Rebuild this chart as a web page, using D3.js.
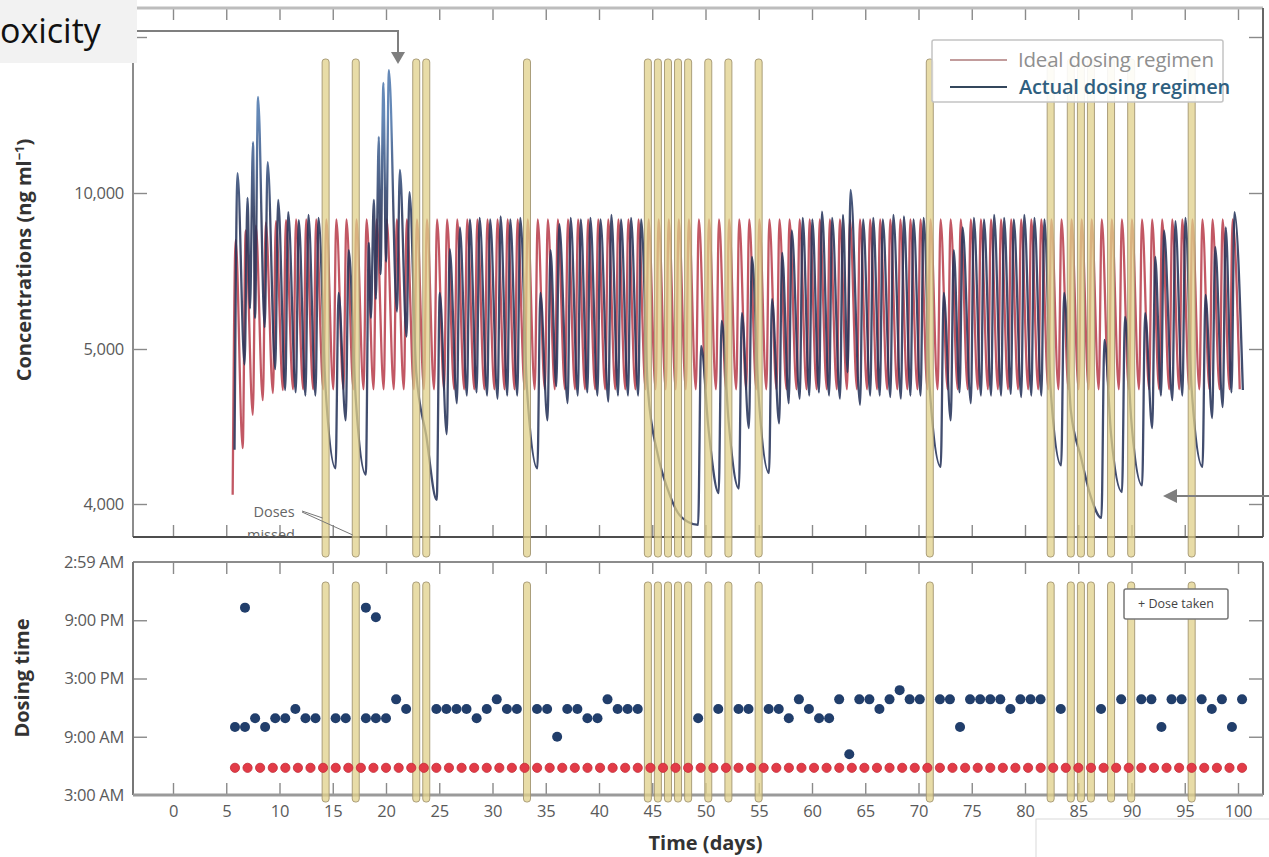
<!DOCTYPE html>
<html lang="en">
<head>
<meta charset="UTF-8">
<title>Ideal vs actual dosing regimen</title>
<script src="https://cdn.jsdelivr.net/npm/d3@7"></script>
<style>
  body { margin: 0; background: #fff; }
  svg text { font-family: "Open Sans", sans-serif; }
</style>
</head>
<body>
<script>
// ---- data ----
// one slot per scheduled dose (days)
var slotDay = [5.82, 6.76, 7.71, 8.65, 9.60, 10.54, 11.49, 12.44, 13.38, 14.33,
  15.27, 16.22, 17.16, 18.11, 19.05, 20.00, 20.95, 21.89, 22.84, 23.78,
  24.73, 25.67, 26.62, 27.56, 28.51, 29.46, 30.40, 31.35, 32.29, 33.24,
  34.18, 35.13, 36.07, 37.02, 37.97, 38.91, 39.86, 40.80, 41.75, 42.69,
  43.64, 44.59, 45.53, 46.48, 47.42, 48.37, 49.31, 50.26, 51.20, 52.15,
  53.10, 54.04, 54.99, 55.93, 56.88, 57.82, 58.77, 59.71, 60.66, 61.61,
  62.55, 63.50, 64.44, 65.39, 66.33, 67.28, 68.23, 69.17, 70.12, 71.06,
  72.01, 72.95, 73.90, 74.84, 75.79, 76.74, 77.68, 78.63, 79.57, 80.52,
  81.46, 82.41, 83.36, 84.30, 85.25, 86.19, 87.14, 88.08, 89.03, 89.97,
  90.92, 91.87, 92.81, 93.76, 94.70, 95.65, 96.59, 97.54, 98.49, 99.43,
  100.38];

// hour of day the dose was taken (null = dose missed)
var takenHour = [10.0, 10.0, 10.9, 10.0, 10.9, 10.9, 11.85, 10.9, 10.9, null,
  10.9, 10.9, null, 10.9, 10.9, 10.9, 12.85, 11.85, null, null,
  11.85, 11.85, 11.85, 11.85, 10.9, 11.85, 12.85, 11.85, 11.85, null,
  11.85, 11.85, 9.0, 11.85, 11.85, 10.9, 10.9, 12.85, 11.85, 11.85,
  11.85, null, null, null, null, null, 10.9, null, 11.85, null,
  11.85, 11.85, null, 11.85, 11.85, 10.9, 12.85, 11.85, 10.9, 10.9,
  12.85, 7.2, 12.85, 12.85, 11.85, 12.85, 13.8, 12.85, 12.85, null,
  12.85, 12.85, 10.0, 12.85, 12.85, 12.85, 12.85, 11.85, 12.85, 12.85,
  12.85, null, 11.85, null, null, null, 11.85, null, 12.85, null,
  12.85, 12.85, 10.0, 12.85, 12.85, null, 12.85, 11.85, 12.85, 10.0,
  12.85];

// second doses taken late in the evening
var extraDay = [6.76, 18.11, 19.05];
var extraHour = [22.3, 22.3, 21.3];
var extraLow = [6300, 6000, 7400];
var extraHigh = [11630, 9780, 13530];

// actual regimen: concentration at dose time and peak after it (ng/ml)
var actualLow = [4350, 4900, 6000, 5700, 4870, 4735, 4720, 4700, 4700, 4740,
  4230, 4540, 4680, 4190, 6600, 7800, 6200, 5400, 4850, 4440,
  4026, 4450, 4650, 4700, 4720, 4700, 4680, 4700, 4700, 4740,
  4230, 4540, 4760, 4650, 4700, 4720, 4700, 4660, 4700, 4700,
  4700, 4740, 4316, 4090, 3942, 3884, 3865, 4500, 4070, 4550,
  4100, 4490, 4700, 4200, 4520, 4650, 4680, 4700, 4720, 4700,
  4680, 4850, 4640, 4700, 4700, 4690, 4680, 4700, 4700, 4740,
  4240, 4540, 4720, 4650, 4700, 4700, 4700, 4710, 4690, 4700,
  4700, 4740, 4250, 4606, 4303, 4045, 3910, 4450, 4077, 4550,
  4120, 4490, 4700, 4670, 4700, 4740, 4240, 4555, 4625, 4720,
  4735];
var actualHigh = [10640, 9840, 13080, 10990, 9780, 9390, 9130, 9300, 9200, null,
  6800, 8170, null, 8400, 11800, 13940, 10740, 10030, null, null,
  6800, 8200, 8900, 9150, 9200, 9150, 9250, 9150, 9200, null,
  6800, 8170, 9000, 9200, 9150, 9200, 9150, 9300, 9150, 9200,
  9150, null, null, null, null, null, 5100, null, 5900, null,
  6150, 7950, null, 6600, 8080, 8800, 9200, 9150, 9400, 9200,
  9300, 10100, 9150, 9200, 9150, 9300, 9250, 9150, 9200, null,
  6800, 8170, 8900, 9200, 9150, 9300, 9200, 9150, 9300, 9200,
  9150, null, 6800, null, null, null, 5290, null, 6030, null,
  6150, 7950, 8800, 9100, 9200, null, 6730, 8270, 8900, 9390,
  null];

// ideal regimen
var idealLow = [4060, 4360, 4575, 4670, 4716, 4735, 4740, 4740, 4740, 4740,
  4740, 4740, 4740, 4740, 4740, 4740, 4740, 4740, 4740, 4740,
  4740, 4740, 4740, 4740, 4740, 4740, 4740, 4740, 4740, 4740,
  4740, 4740, 4740, 4740, 4740, 4740, 4740, 4740, 4740, 4740,
  4740, 4740, 4740, 4740, 4740, 4740, 4740, 4740, 4740, 4740,
  4740, 4740, 4740, 4740, 4740, 4740, 4740, 4740, 4740, 4740,
  4740, 4740, 4740, 4740, 4740, 4740, 4740, 4740, 4740, 4740,
  4740, 4740, 4740, 4740, 4740, 4740, 4740, 4740, 4740, 4740,
  4740, 4740, 4740, 4740, 4740, 4740, 4740, 4740, 4740, 4740,
  4740, 4740, 4740, 4740, 4740, 4740, 4740, 4740, 4740, 4740,
  4740];
var idealHigh = [8500, 8800, 8950, 9050, 9100, 9130, 9150, 9150, 9150, 9150,
  9150, 9150, 9150, 9150, 9150, 9150, 9150, 9150, 9150, 9150,
  9150, 9150, 9150, 9150, 9150, 9150, 9150, 9150, 9150, 9150,
  9150, 9150, 9150, 9150, 9150, 9150, 9150, 9150, 9150, 9150,
  9150, 9150, 9150, 9150, 9150, 9150, 9150, 9150, 9150, 9150,
  9150, 9150, 9150, 9150, 9150, 9150, 9150, 9150, 9150, 9150,
  9150, 9150, 9150, 9150, 9150, 9150, 9150, 9150, 9150, 9150,
  9150, 9150, 9150, 9150, 9150, 9150, 9150, 9150, 9150, 9150,
  9150, 9150, 9150, 9150, 9150, 9150, 9150, 9150, 9150, 9150,
  9150, 9150, 9150, 9150, 9150, 9150, 9150, 9150, 9150, 9150,
  null];

// ideal dosing times in the lower panel
var idealDoseDay = [5.82, 7.00, 8.18, 9.37, 10.55, 11.73, 12.91, 14.09, 15.28, 16.46,
  17.64, 18.82, 20.00, 21.19, 22.37, 23.55, 24.73, 25.91, 27.10, 28.28,
  29.46, 30.64, 31.82, 33.01, 34.19, 35.37, 36.55, 37.73, 38.92, 40.10,
  41.28, 42.46, 43.64, 44.83, 46.01, 47.19, 48.37, 49.55, 50.74, 51.92,
  53.10, 54.28, 55.46, 56.65, 57.83, 59.01, 60.19, 61.37, 62.56, 63.74,
  64.92, 66.10, 67.28, 68.47, 69.65, 70.83, 72.01, 73.19, 74.38, 75.56,
  76.74, 77.92, 79.10, 80.29, 81.47, 82.65, 83.83, 85.01, 86.20, 87.38,
  88.56, 89.74, 90.92, 92.11, 93.29, 94.47, 95.65, 96.83, 98.02, 99.20,
  100.38];
var idealDoseHour = 5.8;

// ticks
var dayTicks = [0, 5, 10, 15, 20, 25, 30, 35, 40, 45, 50, 55, 60, 65, 70, 75, 80, 85, 90, 95, 100];
var concTicks = [4000, 5000, 10000, 15000];
var concTickLabels = ["4,000", "5,000", "10,000", ""];
var timeTicks = [3, 9, 15, 21, 26.983];
var timeTickLabels = ["3:00 AM", "9:00 AM", "3:00 PM", "9:00 PM", "2:59 AM"];

// ---- drawing ----
var width = 1269, height = 857;
var refHour = 11, peakLag = 0.28;

var svg = d3.select("body").append("svg")
    .attr("width", width)
    .attr("height", height);

var pA = {left: 133, right: 1263, top: 8, bottom: 537};   // concentrations
var pB = {left: 133, right: 1263, top: 562, bottom: 795}; // dosing time

var x = d3.scaleLinear().domain([0, 100]).range([173, 1238]);
var yConc = d3.scaleLinear().domain([4000, 5000, 10000]).range([504, 349, 193]);
var yTime = d3.scaleLinear().domain([3, 27]).range([795, 562]);

var defs = svg.append("defs");
defs.append("clipPath").attr("id", "clipA").append("rect")
    .attr("x", pA.left).attr("y", pA.top)
    .attr("width", pA.right - pA.left).attr("height", pA.bottom - pA.top);
// actual line turns lighter blue on its tall spikes
var grad = defs.append("linearGradient").attr("id", "actualGrad")
    .attr("gradientUnits", "userSpaceOnUse")
    .attr("x1", 0).attr("x2", 0)
    .attr("y1", yConc(9200)).attr("y2", yConc(12500));
grad.append("stop").attr("offset", 0).attr("stop-color", "#27345a");
grad.append("stop").attr("offset", 1).attr("stop-color", "#4f78ad");

// dose events -> vertices (trough at dose time, peak a little after)
function vertices(events) {
  var pts = [];
  events.sort(function(a, b) { return a.t - b.t; });
  events.forEach(function(e) {
    pts.push([e.t, e.low]);
    if (e.high != null) pts.push([e.t + peakLag, e.high]);
  });
  return pts;
}

var actualEvents = slotDay.map(function(d, i) {
  var h = takenHour[i] == null ? refHour : takenHour[i];
  return {t: d + (h - refHour) / 24, low: actualLow[i], high: actualHigh[i]};
});
extraDay.forEach(function(d, j) {
  actualEvents.push({t: d + (extraHour[j] - refHour) / 24, low: extraLow[j], high: extraHigh[j]});
});
var idealEvents = slotDay.map(function(d, i) {
  return {t: d + (idealDoseHour - refHour) / 24, low: idealLow[i], high: idealHigh[i]};
});

var line = d3.line()
    .x(function(d) { return x(d[0]); })
    .y(function(d) { return yConc(d[1]); })
    .curve(d3.curveMonotoneX);

var curves = svg.append("g").attr("clip-path", "url(#clipA)");
curves.append("path")
    .attr("d", line(vertices(idealEvents)))
    .attr("fill", "none")
    .attr("stroke", "#bb4653")
    .attr("stroke-opacity", 0.9)
    .attr("stroke-width", 2.3);
curves.append("path")
    .attr("d", line(vertices(actualEvents)))
    .attr("fill", "none")
    .attr("stroke", "url(#actualGrad)")
    .attr("stroke-opacity", 0.88)
    .attr("stroke-width", 2.3);

// ---- frames and ticks ----
function noDomain(g) { g.select(".domain").remove(); g.selectAll(".tick line").attr("stroke", "#8a8a8a").attr("stroke-width", 1.4); }

[pA, pB].forEach(function(p) {
  svg.append("g").attr("transform", "translate(0," + p.top + ")")
      .call(d3.axisTop(x).tickValues(dayTicks).tickSize(-12).tickFormat(""))
      .call(noDomain);
  svg.append("g").attr("transform", "translate(0," + p.bottom + ")")
      .call(d3.axisBottom(x).tickValues(dayTicks).tickSize(-12).tickFormat(""))
      .call(noDomain);
});

svg.append("g").attr("transform", "translate(" + pA.left + ",0)")
    .call(d3.axisLeft(yConc).tickValues(concTicks).tickSize(-14).tickFormat(""))
    .call(noDomain);
svg.append("g").attr("transform", "translate(" + pA.right + ",0)")
    .call(d3.axisRight(yConc).tickValues(concTicks).tickSize(-14).tickFormat(""))
    .call(noDomain);
svg.append("g").attr("transform", "translate(" + pB.left + ",0)")
    .call(d3.axisLeft(yTime).tickValues(timeTicks.slice(1, 4)).tickSize(-14).tickFormat(""))
    .call(noDomain);
svg.append("g").attr("transform", "translate(" + pB.right + ",0)")
    .call(d3.axisRight(yTime).tickValues(timeTicks.slice(1, 4)).tickSize(-14).tickFormat(""))
    .call(noDomain);

// frame lines
function frameLine(x1, y1, x2, y2, col, w) {
  svg.append("line").attr("x1", x1).attr("y1", y1).attr("x2", x2).attr("y2", y2)
      .attr("stroke", col).attr("stroke-width", w);
}
frameLine(pA.left, pA.top, pA.right, pA.top, "#bdbdbd", 3);
frameLine(pA.left, pA.top, pA.left, pA.bottom, "#8c8c8c", 2);
frameLine(pA.right, pA.top, pA.right, pA.bottom, "#666", 2);
frameLine(pA.left, pA.bottom, pA.right, pA.bottom, "#4d4d4d", 2);
frameLine(pB.left, pB.top, pB.right, pB.top, "#8c8c8c", 2);
frameLine(pB.left, pB.top, pB.left, pB.bottom, "#777", 2);
frameLine(pB.right, pB.top, pB.right, pB.bottom, "#777", 2);
frameLine(pB.left, pB.bottom, pB.right, pB.bottom, "#9a9a9a", 3);

// tick labels
function labelStyle(g) {
  g.select(".domain").remove();
  g.attr("font-family", "Open Sans, sans-serif").attr("font-size", 16.5).attr("letter-spacing", -0.3);
  g.selectAll(".tick text").attr("fill", "#5a5a5a");
}
svg.append("g").attr("transform", "translate(" + pA.left + ",0)")
    .call(d3.axisLeft(yConc).tickValues(concTicks).tickSize(0).tickPadding(9)
        .tickFormat(function(d, i) { return concTickLabels[i]; }))
    .call(labelStyle);
svg.append("g").attr("transform", "translate(" + pB.left + ",0)")
    .call(d3.axisLeft(yTime).tickValues(timeTicks).tickSize(0).tickPadding(9)
        .tickFormat(function(d, i) { return timeTickLabels[i]; }))
    .call(labelStyle);
svg.append("g").attr("transform", "translate(0," + pB.bottom + ")")
    .call(d3.axisBottom(x).tickValues(dayTicks).tickSize(0).tickPadding(10))
    .call(labelStyle);

// ---- missed dose bars ----
var missed = slotDay.filter(function(d, i) { return takenHour[i] == null; });
[[59, 557], [582, 802]].forEach(function(span) {
  svg.append("g").selectAll("rect")
      .data(missed)
      .enter()
      .append("rect")
      .attr("x", function(d) { return x(d) - 3.5; })
      .attr("y", span[0])
      .attr("width", 7)
      .attr("height", span[1] - span[0])
      .attr("rx", 3)
      .attr("fill", "#e0d08a")
      .attr("fill-opacity", 0.75)
      .attr("stroke", "#a39671")
      .attr("stroke-opacity", 0.9)
      .attr("stroke-width", 1);
});

// ---- dosing time dots ----
svg.append("g").selectAll("circle")
    .data(idealDoseDay)
    .enter()
    .append("circle")
    .attr("cx", function(d) { return x(d); })
    .attr("cy", yTime(idealDoseHour))
    .attr("r", 4.6)
    .attr("fill", "#e23b47")
    .attr("stroke", "#c22a35")
    .attr("stroke-width", 0.8);

var taken = [];
slotDay.forEach(function(d, i) { if (takenHour[i] != null) taken.push([d, takenHour[i]]); });
extraDay.forEach(function(d, j) { taken.push([d, extraHour[j]]); });
svg.append("g").selectAll("circle")
    .data(taken)
    .enter()
    .append("circle")
    .attr("cx", function(d) { return x(d[0]); })
    .attr("cy", function(d) { return yTime(d[1]); })
    .attr("r", 5)
    .attr("fill", "#213e6b");

// ---- legends ----
var lg = svg.append("g");
lg.append("rect").attr("x", 932).attr("y", 40).attr("width", 291).attr("height", 62)
    .attr("rx", 2).attr("fill", "#fff").attr("fill-opacity", 0.9)
    .attr("stroke", "#c4c4c4").attr("stroke-width", 1.5);
lg.append("line").attr("x1", 950).attr("x2", 1007).attr("y1", 60).attr("y2", 60)
    .attr("stroke", "#c29c9c").attr("stroke-width", 2);
lg.append("line").attr("x1", 950).attr("x2", 1007).attr("y1", 87).attr("y2", 87)
    .attr("stroke", "#34475c").attr("stroke-width", 2);
lg.append("text").attr("x", 1018).attr("y", 60).attr("dy", "0.35em")
    .attr("font-size", 20.5).attr("letter-spacing", -0.2).attr("fill", "#8f8f8f").text("Ideal dosing regimen");
lg.append("text").attr("x", 1019).attr("y", 87).attr("dy", "0.35em")
    .attr("font-size", 20).attr("letter-spacing", -0.2).attr("font-weight", 600).attr("fill", "#2f5f80").text("Actual dosing regimen");

var lg2 = svg.append("g");
lg2.append("rect").attr("x", 1124).attr("y", 589).attr("width", 104).attr("height", 30)
    .attr("rx", 2).attr("fill", "#fff").attr("stroke", "#777").attr("stroke-width", 1.5);
lg2.append("text").attr("x", 1176).attr("y", 604).attr("dy", "0.35em")
    .attr("text-anchor", "middle").attr("font-size", 12.5).attr("fill", "#444")
    .text("+ Dose taken");

// ---- axis titles ----
svg.append("text")
    .attr("transform", "translate(31," + 260 + ") rotate(-90)")
    .attr("text-anchor", "middle").attr("font-size", 20).attr("font-weight", 700).attr("fill", "#333")
    .html("Concentrations (ng ml<tspan dy='-7' font-size='13'>\u22121</tspan><tspan dy='7'>)</tspan>");
svg.append("text")
    .attr("transform", "translate(29," + 678 + ") rotate(-90)")
    .attr("text-anchor", "middle").attr("font-size", 20).attr("font-weight", 700).attr("fill", "#333")
    .text("Dosing time");
svg.append("text")
    .attr("x", x(50)).attr("y", 850)
    .attr("text-anchor", "middle").attr("font-size", 20).attr("font-weight", 700).attr("fill", "#333")
    .text("Time (days)");

// doses missed note
var note = svg.append("g").attr("clip-path", "url(#clipA)");
note.append("text").attr("x", 274).attr("y", 517).attr("text-anchor", "middle")
    .attr("font-size", 14.5).attr("fill", "#666").text("Doses");
note.append("text").attr("x", 271).attr("y", 540).attr("text-anchor", "middle")
    .attr("font-size", 14.5).attr("fill", "#666").text("missed");
note.append("line").attr("x1", 302).attr("y1", 511).attr("x2", x(slotDay[9]) - 3).attr("y2", 518)
    .attr("stroke", "#777").attr("stroke-width", 1);
note.append("line").attr("x1", 302).attr("y1", 512).attr("x2", x(slotDay[12]) - 3).attr("y2", 535)
    .attr("stroke", "#777").attr("stroke-width", 1);

// ---- overlay annotations ----
svg.append("rect").attr("x", 0).attr("y", 0).attr("width", 137).attr("height", 63).attr("fill", "#f2f2f2");
svg.append("text").attr("x", 0).attr("y", 43).attr("font-family", "Lato, sans-serif")
    .attr("font-size", 34).attr("fill", "#111").text("oxicity");
svg.append("path").attr("d", "M137,31H398V53").attr("fill", "none")
    .attr("stroke", "#7f7f7f").attr("stroke-width", 2);
svg.append("path").attr("d", "M391,52L405,52L398,64Z").attr("fill", "#7f7f7f");

svg.append("path").attr("d", "M1269,496H1176").attr("fill", "none")
    .attr("stroke", "#7f7f7f").attr("stroke-width", 2);
svg.append("path").attr("d", "M1177,489L1177,503L1163,496Z").attr("fill", "#7f7f7f");

svg.append("rect").attr("x", 1036).attr("y", 819).attr("width", 240).attr("height", 45)
    .attr("fill", "#fff").attr("stroke", "#d9d9d9").attr("stroke-width", 1);
</script>
</body>
</html>
